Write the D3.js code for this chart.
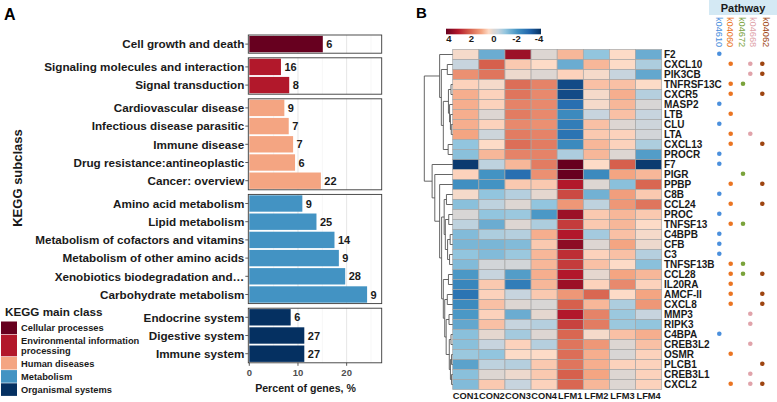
<!DOCTYPE html>
<html><head><meta charset="utf-8">
<script src="https://cdn.jsdelivr.net/npm/d3@7/dist/d3.min.js"></script>
<style>body{margin:0;background:#fff} svg text{font-family:"Liberation Sans",Arial,sans-serif}</style>
</head><body><svg id="c" width="777" height="402"></svg>
<script>
// ---------------- Panel A data ----------------
const subclasses = ["Cell growth and death","Signaling molecules and interaction","Signal transduction","Cardiovascular disease","Infectious disease parasitic","Immune disease","Drug resistance:antineoplastic","Cancer: overview","Amino acid metabolism","Lipid metabolism","Metabolism of cofactors and vitamins","Metabolism of other amino acids","Xenobiotics biodegradation and…","Carbohydrate metabolism","Endocrine system","Digestive system","Immune system"];
const subclassMain = [0,1,1,2,2,2,2,2,3,3,3,3,3,3,4,4,4];
const percentGenes = [15.1,6.5,8.2,7.2,8.1,9.0,9.4,14.7,10.9,13.8,17.5,18.4,19.7,24.2,8.5,11.3,11.3];
const geneCounts = [6,16,8,9,7,7,6,22,9,25,14,9,28,9,6,27,27];
const mainClasses = ["Cellular processes","Environmental information processing","Human diseases","Metabolism","Organismal systems"];
const mainClassLines = [["Cellular processes"],["Environmental information","processing"],["Human diseases"],["Metabolism"],["Organismal systems"]];
const mainColors = ["#67001f","#b2182b","#f4a582","#4393c3","#053061"];
const xTicksA = [0,10,20];

// ---------------- Panel B data ----------------
const samples = ["CON1","CON2","CON3","CON4","LFM1","LFM2","LFM3","LFM4"];
const genes = ["F2","CXCL10","PIK3CB","TNFRSF13C","CXCR5","MASP2","LTB","CLU","LTA","CXCL13","PROCR","F7","PIGR","PPBP","C8B","CCL24","PROC","TNFSF13","C4BPB","CFB","C3","TNFSF13B","CCL28","IL20RA","AMCF-II","CXCL8","MMP3","RIPK3","C4BPA","CREB3L2","OSMR","PLCB1","CREB3L1","CXCL2"];
const expr = [
 [0.3,-1.5,3.3,0.0,0.8,-1.0,0.4,-1.5],
 [-0.4,2.0,0.6,0.4,-1.5,0.8,0.4,-0.7],
 [1.3,1.7,0.2,0.0,0.5,0.3,-0.4,-1.6],
 [0.5,0.3,1.8,1.5,-3.5,0.7,0.7,0.4],
 [0.9,0.5,1.7,1.4,-3.5,0.3,0.9,-0.6],
 [0.9,0.5,1.5,1.4,-2.8,0.3,0.8,-0.1],
 [0.9,0.0,1.6,1.4,-2.2,-0.4,0.7,-0.4],
 [0.9,0.5,1.4,1.3,-2.5,0.7,0.0,-0.3],
 [1.0,-0.3,1.6,1.5,-2.7,0.6,0.5,-0.2],
 [-1.0,0.4,1.8,1.6,-2.2,0.8,0.5,-0.7],
 [-1.1,0.8,1.5,1.5,-0.7,0.8,0.0,-1.8],
 [-3.8,-0.5,0.8,1.6,4.0,0.4,2.0,-3.8],
 [0.5,-2.0,-2.8,1.3,4.0,-2.2,1.0,0.8],
 [-2.1,-2.0,0.6,0.6,3.0,0.0,-1.1,1.9],
 [0.3,-1.0,-0.6,0.1,2.3,-1.4,1.1,0.6],
 [-1.1,-0.5,0.0,-1.0,1.2,-0.5,1.2,1.7],
 [-0.1,-1.0,-0.9,-1.9,3.3,0.6,0.8,0.6],
 [-0.5,-1.5,0.0,-0.7,2.5,0.6,0.8,0.4],
 [-1.2,-0.7,-0.6,0.9,3.0,-0.8,0.7,0.3],
 [-1.3,-1.3,-1.2,0.6,3.5,0.0,1.0,0.2],
 [-1.0,-1.2,-0.9,0.8,2.7,0.5,0.7,-0.6],
 [-1.2,-0.2,-0.2,0.8,2.5,0.7,0.4,-1.1],
 [-1.9,-0.4,-1.8,0.9,3.0,0.1,1.0,0.8],
 [-2.3,0.6,-2.5,0.8,3.3,0.5,1.4,0.5],
 [-2.7,0.5,-0.4,0.6,1.2,1.9,0.4,1.0],
 [-2.2,0.7,0.0,-0.1,2.0,0.8,-0.7,1.2],
 [-1.9,0.5,-1.5,0.1,3.0,1.5,-0.9,-0.4],
 [-1.6,0.7,-0.4,-0.6,2.4,1.6,-0.9,-1.0],
 [-1.1,0.1,-0.8,0.0,1.9,0.3,0.7,0.9],
 [-1.1,-0.4,0.5,-0.6,1.7,1.2,0.0,0.7],
 [-0.9,-1.0,0.4,0.4,1.8,0.9,-0.1,0.5],
 [-1.7,-0.5,-0.6,0.6,1.7,0.9,0.5,0.5],
 [-1.1,0.0,0.2,0.6,2.0,1.0,0.0,0.5],
 [-1.2,0.6,-0.4,0.5,1.9,0.8,0.0,0.5]
];
const pathways = ["k04610","k04060","k04672","k04668","k04062"];
const pathwayColors = ["#4a8fdc","#ea7422","#7aa33c","#e0a3aa","#9e4512"];
const genePathways = [
 ["k04610"],["k04060","k04668","k04062"],["k04668","k04062"],["k04060","k04672"],["k04060","k04062"],
 ["k04610"],["k04060"],["k04610"],["k04060","k04668"],["k04060","k04062"],["k04610"],["k04610"],
 ["k04672"],["k04060","k04062"],["k04610"],["k04060","k04062"],["k04610"],["k04060","k04672"],
 ["k04610"],["k04610"],["k04610"],["k04060","k04672"],["k04060","k04672","k04062"],["k04060"],
 ["k04060","k04062"],["k04060","k04062"],["k04668"],["k04668"],["k04610"],["k04668"],["k04060"],
 ["k04062"],["k04668"],["k04060","k04668","k04062"]
];
const legendTicks = [4,2,0,-2,-4];
// row dendrogram: [merge height, left, right]
const rowTree = [10,
  [4.6,"F2",[4.0,[1.9,"CXCL10","PIK3CB"],[3.3,[1.5,[0.6,"TNFRSF13C","CXCR5"],[1.1,"MASP2",[0.8,"LTB",[0.5,"CLU","LTA"]]]],[1.6,"CXCL13","PROCR"]]]],
  [7.25,"F7",[6.3,"PIGR",[4.6,"PPBP",[3.9,
     [3.0,[2.2,"C8B","CCL24"],[2.6,[1.4,"PROC","TNFSF13"],[1.8,[0.9,"C4BPB","CFB"],[1.1,"C3","TNFSF13B"]]]],
     [3.3,[1.5,"CCL28","IL20RA"],[2.8,[1.9,"AMCF-II","CXCL8"],[2.3,[1.3,"MMP3","RIPK3"],[1.2,[0.6,"C4BPA","CREB3L2"],[0.8,[0.4,"OSMR","PLCB1"],[0.4,"CREB3L1","CXCL2"]]]]]]
  ]]]]
];

// ---------------- drawing ----------------
const svg = d3.select("#c");
const ink = "#1a1a1a";

// Panel labels
svg.append("text").attr("x",4).attr("y",20).text("A").attr("font-size",16).attr("font-weight","bold");
svg.append("text").attr("x",416).attr("y",18).text("B").attr("font-size",15).attr("font-weight","bold");

// ----- Panel A -----
const xA = d3.scaleLinear().domain([0,27.2]).range([249.3,381.7]);
const unit = 18.2, gap = 4.6;
let yCursor = 35;
const facets = mainClasses.map((m,fi)=>{
  const items = subclasses.filter((s,i)=>subclassMain[i]===fi);
  const top = yCursor, bottom = top + items.length*unit;
  yCursor = bottom + gap;
  const band = d3.scaleBand().domain(items).range([top,bottom]).paddingInner(0.1).paddingOuter(0.05);
  return {fi,items,top,bottom,band};
});
const gA = svg.append("g");
const minorTicks = [5,15,25];
facets.forEach(f=>{
  gA.append("rect").attr("x",xA.range()[0]-1).attr("y",f.top).attr("width",xA.range()[1]-xA.range()[0]+1).attr("height",f.bottom-f.top).attr("fill","#fff");
  gA.selectAll(null).data(minorTicks).join("line").attr("x1",d=>xA(d)).attr("x2",d=>xA(d)).attr("y1",f.top).attr("y2",f.bottom).attr("stroke","#f2f2f2").attr("stroke-width",0.6);
  gA.selectAll(null).data(xTicksA).join("line").attr("x1",d=>xA(d)).attr("x2",d=>xA(d)).attr("y1",f.top).attr("y2",f.bottom).attr("stroke","#e6e6e6").attr("stroke-width",1);
  f.items.forEach(s=>{
    const i = subclasses.indexOf(s);
    const y = f.band(s), h = f.band.bandwidth();
    gA.append("rect").attr("x",xA(0)).attr("y",y).attr("width",xA(percentGenes[i])-xA(0)).attr("height",h).attr("fill",mainColors[f.fi]);
    gA.append("text").attr("x",xA(percentGenes[i])+3.5).attr("y",y+h/2+4).text(geneCounts[i]).attr("font-size",11).attr("font-weight","bold").attr("fill",ink);
    gA.append("line").attr("x1",xA.range()[0]-4).attr("x2",xA.range()[0]-1).attr("y1",y+h/2).attr("y2",y+h/2).attr("stroke","#333").attr("stroke-width",0.8);
    gA.append("text").attr("x",xA.range()[0]-5).attr("y",y+h/2+4.2).attr("text-anchor","end").text(s).attr("font-size",11.7).attr("font-weight","bold").attr("fill",ink);
  });
  gA.append("rect").attr("x",xA.range()[0]-1).attr("y",f.top).attr("width",xA.range()[1]-xA.range()[0]+1).attr("height",f.bottom-f.top).attr("fill","none").attr("stroke","#3a3a3a").attr("stroke-width",0.9);
});
const lastF = facets[facets.length-1];
gA.selectAll(null).data(xTicksA).join("line").attr("x1",d=>xA(d)).attr("x2",d=>xA(d)).attr("y1",lastF.bottom).attr("y2",lastF.bottom+3).attr("stroke","#333").attr("stroke-width",0.8);
gA.selectAll(null).data(xTicksA).join("text").attr("x",d=>xA(d)).attr("y",lastF.bottom+13).attr("text-anchor","middle").text(d=>d).attr("font-size",9.5).attr("fill","#4d4d4d").attr("font-weight","bold");
gA.append("text").attr("x",(xA.range()[0]+xA.range()[1])/2-10).attr("y",392).attr("text-anchor","middle").text("Percent of genes, %").attr("font-size",10.6).attr("font-weight","bold").attr("fill",ink);
gA.append("text").attr("transform","translate(21.5,178) rotate(-90)").attr("text-anchor","middle").text("KEGG subclass").attr("font-size",13).attr("font-weight","bold").attr("fill",ink);

// legend A
const lg = svg.append("g");
lg.append("text").attr("x",5).attr("y",316).text("KEGG main class").attr("font-size",11.7).attr("font-weight","bold").attr("fill",ink);
let ly = 321.5;
mainClassLines.forEach((lines,i)=>{
  const h = lines.length===1 ? 12.6 : 21.6;
  lg.append("rect").attr("x",1).attr("y",ly).attr("width",16).attr("height",h).attr("fill",mainColors[i]);
  const t = lg.append("text").attr("font-size",9.3).attr("font-weight","bold").attr("fill",ink);
  lines.forEach((ln,k)=>{
    t.append("tspan").attr("x",21).attr("y",ly + h/2 + 3.3 + (k-(lines.length-1)/2)*9.8).text(ln);
  });
  ly += h + 0.6;
});

// ----- Panel B -----
const xB = d3.scaleBand().domain(samples).range([452.7,661.7]);
const yB = d3.scaleBand().domain(genes).range([49.5,389.5]);
const color = d3.scaleLinear()
  .domain([4,3,2,1,0.4,0,-0.4,-1,-2,-3,-4])
  .range(["#67001f","#b2182b","#d6604d","#f4a582","#fddbc7","#ddd6d2","#c7d4de","#92c5de","#4393c3","#2166ac","#053061"])
  .clamp(true);

const hm = svg.append("g");
genes.forEach((g,r)=>{
  samples.forEach((s,c)=>{
    hm.append("rect").attr("x",xB(s)).attr("y",yB(g)).attr("width",xB.bandwidth()).attr("height",yB.bandwidth())
      .attr("fill",color(expr[r][c])).attr("stroke","#a6a6a6").attr("stroke-width",0.7);
  });
});
hm.selectAll(null).data(genes).join("text").attr("x",664).attr("y",d=>yB(d)+yB.bandwidth()/2+3.4)
  .text(d=>d).attr("font-size",10).attr("font-weight","bold").attr("fill",ink)
  .style("font-family",'"Liberation Sans Narrow","Arial Narrow","Liberation Sans",sans-serif');
hm.selectAll(null).data(samples).join("text").attr("x",d=>xB(d)+xB.bandwidth()/2).attr("y",399)
  .attr("text-anchor","middle").text(d=>d).attr("font-size",9.3).attr("font-weight","bold").attr("fill",ink);

// dendrogram
const dx = d3.scaleLinear().domain([0,10]).range([452.7,424.3]);
const root = d3.hierarchy(rowTree, d=>Array.isArray(d)?[d[1],d[2]]:undefined);
root.eachAfter(n=>{
  if(n.children){ n.py = (n.children[0].py+n.children[1].py)/2; n.px = dx(n.data[0]); }
  else { n.py = yB(n.data)+yB.bandwidth()/2; n.px = dx(0); }
});
const dg = svg.append("g").attr("stroke","#555").attr("stroke-width",0.9).attr("fill","none");
root.each(n=>{
  if(!n.children) return;
  dg.append("line").attr("x1",n.px).attr("x2",n.px).attr("y1",n.children[0].py).attr("y2",n.children[1].py);
  n.children.forEach(ch=>{
    dg.append("line").attr("x1",n.px).attr("x2",ch.px).attr("y1",ch.py).attr("y2",ch.py);
  });
});

// colour legend
const lx = d3.scaleLinear().domain([4,-4]).range([449,539]);
const defs = svg.append("defs");
const grad = defs.append("linearGradient").attr("id","gr").attr("x1","0%").attr("x2","100%");
d3.range(0,41).forEach(i=>{
  const v = 4 - i*0.2;
  grad.append("stop").attr("offset",(i/40*100)+"%").attr("stop-color",color(v));
});
svg.append("rect").attr("x",446).attr("y",28.7).attr("width",95).attr("height",5.6).attr("fill","url(#gr)");
svg.selectAll(null).data(legendTicks).join("text").attr("x",d=>lx(d)).attr("y",41.5).attr("text-anchor","middle")
  .text(d=>d).attr("font-size",9.5).attr("font-weight","bold").attr("fill",ink);

// pathway panel
const px = d3.scaleOrdinal().domain(pathways).range([719.3,730.7,743,750.3,762.3]);
const plx = d3.scaleOrdinal().domain(pathways).range([718.5,730.2,741.8,753,765.8]);
svg.append("rect").attr("x",709).attr("y",0).attr("width",68).attr("height",15).attr("fill","#d4e9f4");
svg.append("text").attr("x",743).attr("y",11.5).attr("text-anchor","middle").text("Pathway").attr("font-size",11).attr("font-weight","bold").attr("fill",ink);
svg.selectAll(null).data(pathways).join("text")
  .attr("transform",d=>`translate(${plx(d)},17) rotate(90)`).attr("dominant-baseline","central")
  .text(d=>d).attr("font-size",9.2).attr("fill",(d,i)=>pathwayColors[i]);
genes.forEach((g,r)=>{
  genePathways[r].forEach(p=>{
    svg.append("circle").attr("cx",px(p)).attr("cy",yB(g)+yB.bandwidth()/2-0.8).attr("r",2.3)
      .attr("fill",pathwayColors[pathways.indexOf(p)]);
  });
});
</script></body></html>
